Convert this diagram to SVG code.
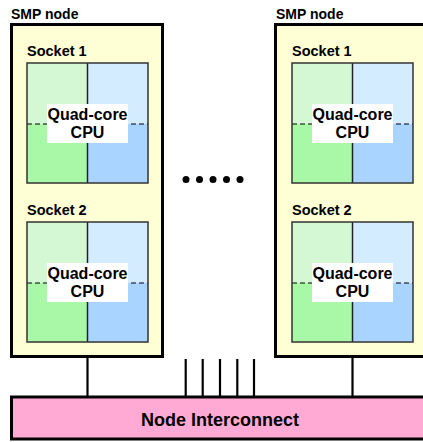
<svg xmlns="http://www.w3.org/2000/svg" width="423" height="442" viewBox="0 0 423 442">
<style>
.node{fill:#ffffd6;stroke:#000;stroke-width:3}
.t{font-family:"Liberation Sans",Arial,sans-serif;font-weight:bold;fill:#000}
.smp{font-size:14px}
.sock{font-size:14.5px}
.cpu{font-size:16px;text-anchor:middle}
.c1{fill:#d4f8d4}
.c2{fill:#d4ecff}
.c3{fill:#a8f8a8}
.c4{fill:#a8d4ff}
.frame{fill:none;stroke:#333;stroke-width:1.5}
.div{stroke:#222;stroke-width:1.5}
.dash{stroke:#000;stroke-width:1.2;stroke-dasharray:5 3}
.lbl{fill:#fff}
.wire{stroke:#000;stroke-width:2.2}
</style>
<defs>
<g id="socket">
<rect class="c1" x="0" y="0" width="60.5" height="61"/>
<rect class="c2" x="60.5" y="0" width="60.5" height="61"/>
<rect class="c3" x="0" y="61" width="60.5" height="59"/>
<rect class="c4" x="60.5" y="61" width="60.5" height="59"/>
<line class="div" x1="60.5" y1="0" x2="60.5" y2="120"/>
<line class="dash" x1="0" y1="61" x2="121" y2="61"/>
<rect class="frame" x="0" y="0" width="121" height="120"/>
<rect class="lbl" x="20" y="41" width="81" height="39"/>
<text class="t cpu" x="60.5" y="57">Quad-core</text>
<text class="t cpu" x="60.5" y="75">CPU</text>
</g>
</defs>
<g id="connectors">
<line class="wire" x1="87.5" y1="357" x2="87.5" y2="397"/>
<line class="wire" x1="352.5" y1="357" x2="352.5" y2="397"/>
<line class="wire" x1="185.7" y1="359" x2="185.7" y2="397"/>
<line class="wire" x1="202.7" y1="359" x2="202.7" y2="397"/>
<line class="wire" x1="220" y1="359" x2="220" y2="397"/>
<line class="wire" x1="237.3" y1="359" x2="237.3" y2="397"/>
<line class="wire" x1="254" y1="359" x2="254" y2="397"/>
</g>
<g id="node-left">
<text class="t smp" x="11" y="19">SMP node</text>
<rect class="node" x="11.5" y="24.5" width="151" height="332"/>
<g id="left-socket1">
<text class="t sock" x="27" y="56">Socket 1</text>
<use href="#socket" x="27" y="63"/>
</g>
<g id="left-socket2">
<text class="t sock" x="27" y="215">Socket 2</text>
<use href="#socket" x="27" y="222"/>
</g>
</g>
<g id="node-right">
<text class="t smp" x="276" y="19">SMP node</text>
<rect class="node" x="275.5" y="24.5" width="160" height="332"/>
<g id="right-socket1">
<text class="t sock" x="292" y="56">Socket 1</text>
<use href="#socket" x="292" y="63"/>
</g>
<g id="right-socket2">
<text class="t sock" x="292" y="215">Socket 2</text>
<use href="#socket" x="292" y="222"/>
</g>
</g>
<g id="ellipsis">
<circle cx="186" cy="179.5" r="3.5"/>
<circle cx="199.5" cy="179.5" r="3.5"/>
<circle cx="213" cy="179.5" r="3.5"/>
<circle cx="226.5" cy="179.5" r="3.5"/>
<circle cx="240" cy="179.5" r="3.5"/>
</g>
<g id="interconnect">
<rect x="11.5" y="397" width="420" height="42" fill="#ffaad4" stroke="#000" stroke-width="3"/>
<text class="t" x="220" y="426" font-size="18" text-anchor="middle">Node Interconnect</text>
</g>
</svg>
